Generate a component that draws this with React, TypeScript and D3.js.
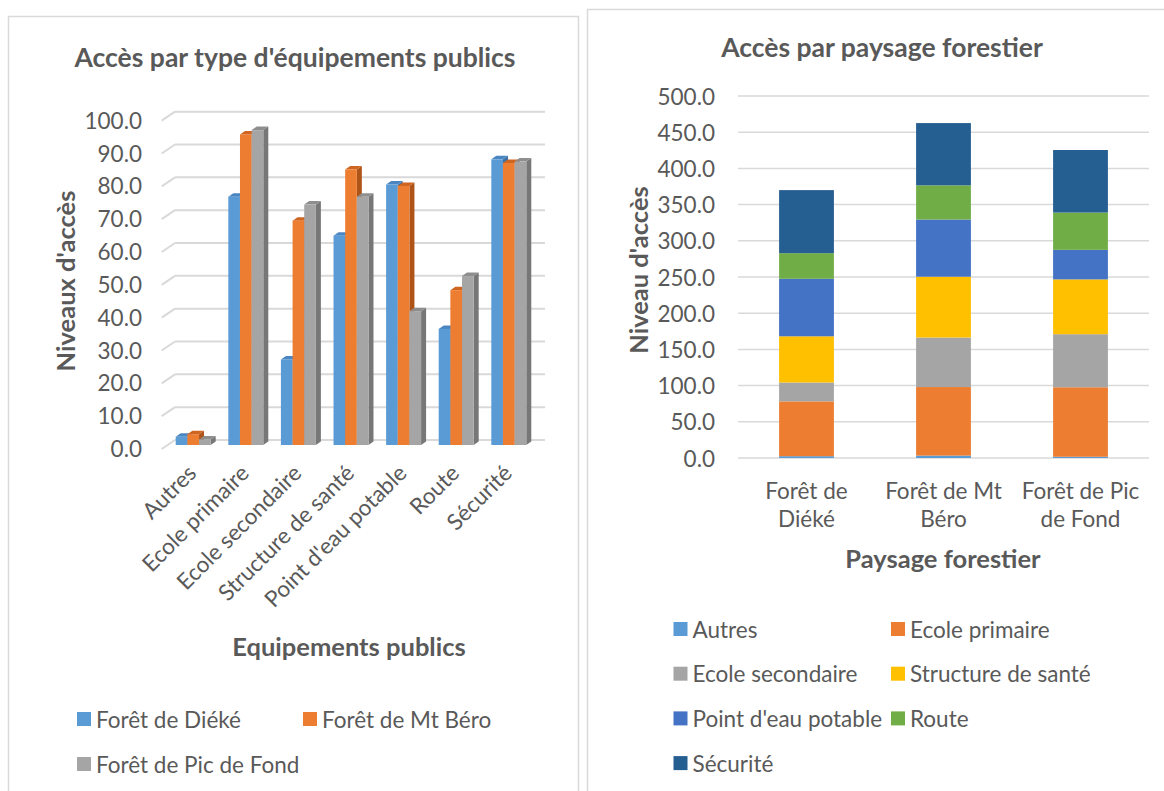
import React from "react";
import * as d3 from "d3";

const equipments = [
  "Autres",
  "Ecole primaire",
  "Ecole secondaire",
  "Structure de santé",
  "Point d'eau potable",
  "Route",
  "Sécurité",
];
const forests = ["Forêt de Diéké", "Forêt de Mt Béro", "Forêt de Pic de Fond"];
const forestAxisLabels = [
  ["Forêt de", "Diéké"],
  ["Forêt de Mt", "Béro"],
  ["Forêt de Pic", "de Fond"],
];
const dieke = [2.5, 75.7, 26.1, 63.8, 79.4, 35.4, 87.1];
const mtBero = [3.3, 94.7, 68.4, 84.0, 79.0, 47.2, 86.0];
const picDeFond = [1.7, 96.0, 73.3, 75.7, 40.8, 51.5, 86.4];
const leftTicks = [0, 10, 20, 30, 40, 50, 60, 70, 80, 90, 100];
const rightTicks = [0, 50, 100, 150, 200, 250, 300, 350, 400, 450, 500];

const forestColors = ["#5B9BD5", "#ED7D31", "#A5A5A5"];
const forestTop = ["#4A86C2", "#CF6520", "#8E8E8E"];
const forestSide = ["#3E73A8", "#AE5419", "#777777"];
const equipColors = ["#5B9BD5", "#ED7D31", "#A5A5A5", "#FFC000", "#4472C4", "#70AD47", "#255E91"];

const FONT = "Lato, 'Open Sans', sans-serif";
const TXT = "#595959";
const GRID = "#D9D9D9";
const FS = 22.5;
const FS_AXIS = 25.5;
const FS_TITLE = 26.5;

function LeftChart() {
  const series = [dieke, mtBero, picDeFond];
  const x = d3
    .scaleBand<string>()
    .domain(equipments)
    .range([166.9, 535.1])
    .paddingInner(0.335)
    .paddingOuter(0.1675);
  const bw = x.bandwidth() / 3;
  const yBar = d3.scaleLinear().domain([0, 100]).range([445, 117]);
  const yWall = d3.scaleLinear().domain([0, 100]).range([440, 111.7]);
  const dx = 5;
  const dy = -3.5;
  const base = yBar(0);
  return (
    <g>
      <rect x={8.5} y={16.5} width={570} height={800} fill="#fff" stroke={GRID} strokeWidth={1.5} />
      <text x={295} y={57} textAnchor="middle" dominantBaseline="central" fontFamily={FONT} fontWeight="bold" fontSize={FS_TITLE} fill={TXT}>
        Accès par type d'équipements publics
      </text>
      {leftTicks.map((t) => (
        <g key={t}>
          <line x1={161.7} y1={yWall(t) + 9} x2={175} y2={yWall(t)} stroke={GRID} strokeWidth={2} />
          <line x1={175} y1={yWall(t)} x2={545} y2={yWall(t)} stroke={GRID} strokeWidth={2} />
          <text x={142} y={yWall(t) + 8.5} textAnchor="end" dominantBaseline="central" fontFamily={FONT} fontSize={FS} fill={TXT}>
            {t.toFixed(1)}
          </text>
        </g>
      ))}
      {equipments.map((eq, i) => (
        <g key={eq}>
          {series.map((s, k) => {
            const x0 = (x(eq) as number) + k * bw;
            const yt = yBar(s[i]);
            const x1 = x0 + bw;
            return (
              <g key={k}>
                <polygon
                  points={`${x1},${yt} ${x1 + dx},${yt + dy} ${x1 + dx},${base + dy} ${x1},${base}`}
                  fill={forestSide[k]}
                />
                <polygon
                  points={`${x0},${yt} ${x0 + dx},${yt + dy} ${x1 + dx},${yt + dy} ${x1},${yt}`}
                  fill={forestTop[k]}
                />
                <rect x={x0} y={yt} width={bw} height={base - yt} fill={forestColors[k]} />
              </g>
            );
          })}
        </g>
      ))}
      {equipments.map((eq) => {
        const cx = (x(eq) as number) + x.bandwidth() / 2;
        return (
          <text
            key={eq}
            transform={`translate(${cx - 1},${469}) rotate(-45)`}
            textAnchor="end"
            dy="0.35em"
            fontFamily={FONT}
            fontSize={FS}
            fill={TXT}
          >
            {eq}
          </text>
        );
      })}
      <text x={349} y={646} textAnchor="middle" dominantBaseline="central" fontFamily={FONT} fontWeight="bold" fontSize={FS_AXIS} fill={TXT}>
        Equipements publics
      </text>
      <text
        transform={`translate(65,281) rotate(-90)`}
        textAnchor="middle"
        dominantBaseline="central"
        fontFamily={FONT}
        fontWeight="bold"
        fontSize={FS_AXIS}
        fill={TXT}
      >
        Niveaux d'accès
      </text>
      {forests.map((f, k) => {
        const col = k % 2;
        const row = Math.floor(k / 2);
        const lx = col === 0 ? 77 : 303;
        const ly = 719 + row * 45;
        return (
          <g key={f}>
            <rect x={lx} y={ly - 7} width={14} height={14} fill={forestColors[k]} />
            <text x={lx + 19} y={ly} dominantBaseline="central" fontFamily={FONT} fontSize={FS} fill={TXT}>
              {f}
            </text>
          </g>
        );
      })}
    </g>
  );
}

function RightChart() {
  const rows = forests.map((f, k) => {
    const vals = [dieke, mtBero, picDeFond][k];
    const r: Record<string, any> = { forest: f };
    equipments.forEach((e, i) => (r[e] = vals[i]));
    return r;
  });
  const stacked = d3.stack<Record<string, any>>().keys(equipments)(rows);
  const x = d3.scaleBand<string>().domain(forests).range([738, 1149]).paddingInner(0.6).paddingOuter(0.3);
  const y = d3.scaleLinear().domain([0, 500]).range([458, 96]);
  return (
    <g>
      <rect x={587.5} y={9.5} width={600} height={800} fill="#fff" stroke={GRID} strokeWidth={1.5} />
      <text x={882} y={47} textAnchor="middle" dominantBaseline="central" fontFamily={FONT} fontWeight="bold" fontSize={FS_TITLE} fill={TXT}>
        Accès par paysage forestier
      </text>
      {rightTicks.map((t) => (
        <g key={t}>
          <line x1={738} x2={1149} y1={y(t)} y2={y(t)} stroke={GRID} strokeWidth={1.5} />
          <text x={715} y={y(t)} textAnchor="end" dominantBaseline="central" fontFamily={FONT} fontSize={FS} fill={TXT}>
            {t.toFixed(1)}
          </text>
        </g>
      ))}
      {stacked.map((s, si) => (
        <g key={s.key}>
          {s.map((d, j) => (
            <rect
              key={j}
              x={x(forests[j]) as number}
              y={y(d[1])}
              width={x.bandwidth()}
              height={y(d[0]) - y(d[1])}
              fill={equipColors[si]}
            />
          ))}
        </g>
      ))}
      {forests.map((f, k) => {
        const cx = (x(f) as number) + x.bandwidth() / 2;
        return (
          <text key={f} textAnchor="middle" fontFamily={FONT} fontSize={FS} fill={TXT}>
            {forestAxisLabels[k].map((ln, li) => (
              <tspan key={li} x={cx} y={490 + li * 28} dominantBaseline="central">
                {ln}
              </tspan>
            ))}
          </text>
        );
      })}
      <text x={943} y={558} textAnchor="middle" dominantBaseline="central" fontFamily={FONT} fontWeight="bold" fontSize={FS_AXIS} fill={TXT}>
        Paysage forestier
      </text>
      <text
        transform={`translate(638,270) rotate(-90)`}
        textAnchor="middle"
        dominantBaseline="central"
        fontFamily={FONT}
        fontWeight="bold"
        fontSize={FS_AXIS}
        fill={TXT}
      >
        Niveau d'accès
      </text>
      {equipments.map((e, i) => {
        const col = i % 2;
        const row = Math.floor(i / 2);
        const lx = col === 0 ? 673.5 : 891;
        const ly = 629 + row * 44.7;
        return (
          <g key={e}>
            <rect x={lx} y={ly - 7} width={14} height={14} fill={equipColors[i]} />
            <text x={lx + 19} y={ly} dominantBaseline="central" fontFamily={FONT} fontSize={FS} fill={TXT}>
              {e}
            </text>
          </g>
        );
      })}
    </g>
  );
}

export default function App() {
  return (
    <svg
      width={1164}
      height={791}
      style={{ position: "absolute", left: 0, top: 0, background: "#fff" }}
    >
      <rect x={0} y={0} width={1164} height={791} fill="#fff" />
      <RightChart />
      <LeftChart />
    </svg>
  );
}
